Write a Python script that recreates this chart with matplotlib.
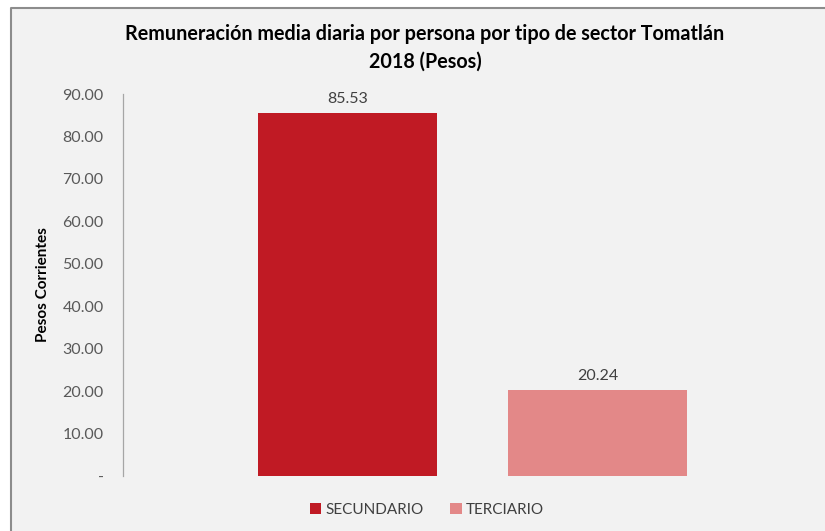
import matplotlib
matplotlib.use("Agg")
import matplotlib.pyplot as plt
from matplotlib.patches import Rectangle, Patch
from matplotlib.lines import Line2D

categories = ["SECUNDARIO", "TERCIARIO"]
values = [85.53, 20.24]
colors = ["#C01A24", "#E38888"]
yticks = [0, 10, 20, 30, 40, 50, 60, 70, 80, 90]
ytick_labels = ["-", "10.00", "20.00", "30.00", "40.00", "50.00", "60.00", "70.00", "80.00", "90.00"]
title = "Remuneración media diaria por persona por tipo de sector Tomatlán\n2018 (Pesos)"
ylabel = "Pesos Corrientes"

plt.rcParams['font.family'] = ['Lato', 'DejaVu Sans']

W, H = 825, 531
fig = plt.figure(figsize=(W / 100, H / 100), dpi=100, facecolor="white")

# background panel and frame
fig.patches.append(Rectangle((11 / W, 0), 1 - 11 / W, 1 - 8 / H, transform=fig.transFigure,
                             facecolor="#F2F2F2", edgecolor="none", zorder=-10))
fig.lines.append(Line2D([11 / W, 11 / W, 1], [0, 1 - 8 / H, 1 - 8 / H], transform=fig.transFigure,
                        color="#8C8C8C", linewidth=1.5, zorder=-9))

left, right = 123, 805
top, bottom = 94, 476
ax = fig.add_axes([left / W, 1 - bottom / H, (right - left) / W, (bottom - top) / H])
ax.set_facecolor("none")
ax.set_zorder(5)

x = list(range(len(categories)))
bars = ax.bar(x, values, width=0.716, color=colors, zorder=2)
for xi, v in zip(x, values):
    ax.annotate(f"{v:.2f}", (xi, v), xytext=(0, 5), textcoords="offset points",
                ha="center", va="bottom", fontsize=11.5, color="#404040")

ax.set_ylim(0, 90)
ax.set_xlim(-0.898, 1.83)
ax.set_yticks(yticks)
ax.set_yticklabels(ytick_labels, fontsize=11.5, color="#595959")
ax.tick_params(axis="y", length=0, pad=14)
ax.set_xticks([])
for s in ["top", "right", "bottom"]:
    ax.spines[s].set_visible(False)
ax.spines["left"].set_color("#A6A6A6")
ax.spines["left"].set_linewidth(0.9)

fig.text(43 / W, 1 - 285 / H, ylabel, rotation=90, ha="center", va="center",
         fontsize=11, fontweight="bold", color="black")

fig.text(425 / W, 1 - 48 / H, title, ha="center", va="center", fontsize=14.2,
         fontweight="bold", color="black", linespacing=1.5)

handles = [Patch(facecolor=c, edgecolor="none") for c in colors]
fig.legend(handles, categories, loc="center", bbox_to_anchor=(427 / W, 1 - 510 / H),
           ncol=2, frameon=False, fontsize=11, handlelength=0.75, handleheight=0.75,
           handletextpad=0.3, columnspacing=1.7, labelcolor="#404040")

fig.savefig("out.png", dpi=100, facecolor=fig.get_facecolor())
